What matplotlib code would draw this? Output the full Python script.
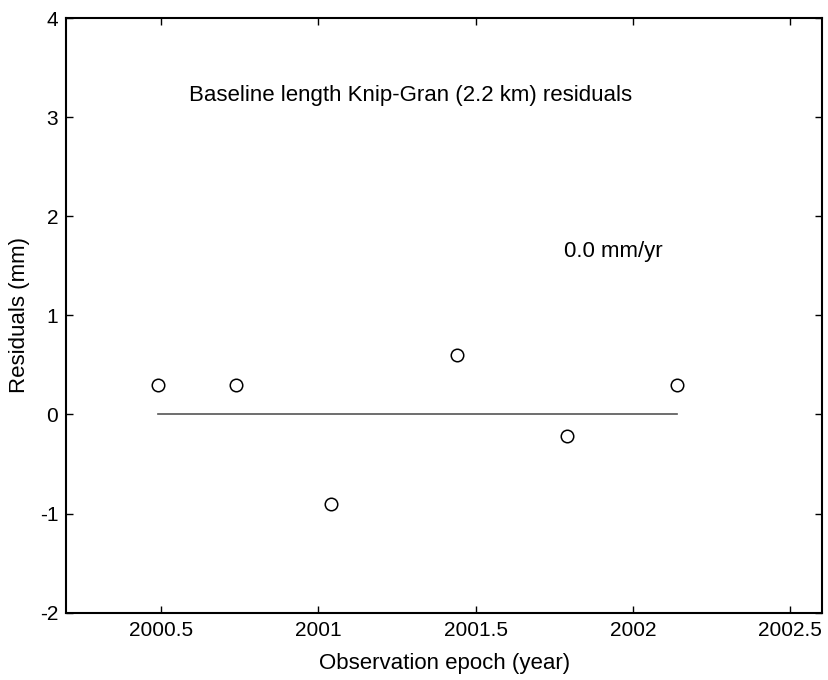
import matplotlib
matplotlib.use("Agg")
import matplotlib.pyplot as plt

# observation epochs (decimal year) and baseline length residuals (mm)
epochs = [2000.49, 2000.74, 2001.04, 2001.44, 2001.79, 2002.14]
residuals = [0.3, 0.3, -0.9, 0.6, -0.22, 0.3]
rate_mm_yr = 0.0

xticks = [2000.5, 2001, 2001.5, 2002, 2002.5]
xtick_labels = ["2000.5", "2001", "2001.5", "2002", "2002.5"]
yticks = [-2, -1, 0, 1, 2, 3, 4]
ytick_labels = ["-2", "-1", "0", "1", "2", "3", "4"]

plt.rcParams["font.family"] = ["Liberation Sans", "DejaVu Sans"]

fig = plt.figure(figsize=(8.29, 6.8), dpi=100)
ax = fig.add_axes([0.0802, 0.099, 0.911, 0.8745])

# trend line over the observation span
t0, t1 = epochs[0], epochs[-1]
mean_res = 0.0
ax.plot([t0, t1], [mean_res, mean_res + rate_mm_yr * (t1 - t0)],
        color="#555555", linewidth=1.2)
ax.plot(epochs, residuals, linestyle="none", marker="o", markersize=9,
        markerfacecolor="white", markeredgecolor="black", markeredgewidth=1.1)

ax.text(2000.589, 3.22, "Baseline length Knip-Gran (2.2 km) residuals",
        fontsize=16, va="center", ha="left")
ax.text(2001.781, 1.64, "%.1f mm/yr" % rate_mm_yr, fontsize=16,
        va="center", ha="left")

ax.set_xlim(2000.2, 2002.6)
ax.set_ylim(-2, 4)
ax.set_xticks(xticks)
ax.set_xticklabels(xtick_labels)
ax.set_yticks(yticks)
ax.set_yticklabels(ytick_labels)
ax.tick_params(direction="in", length=5, width=1, labelsize=15,
               top=True, right=True, pad=6)
for s in ax.spines.values():
    s.set_linewidth(1.5)

ax.set_xlabel("Observation epoch (year)", fontsize=16, labelpad=9)
ax.set_ylabel("Residuals (mm)", fontsize=16, labelpad=7)

fig.savefig("out.png", dpi=100)
